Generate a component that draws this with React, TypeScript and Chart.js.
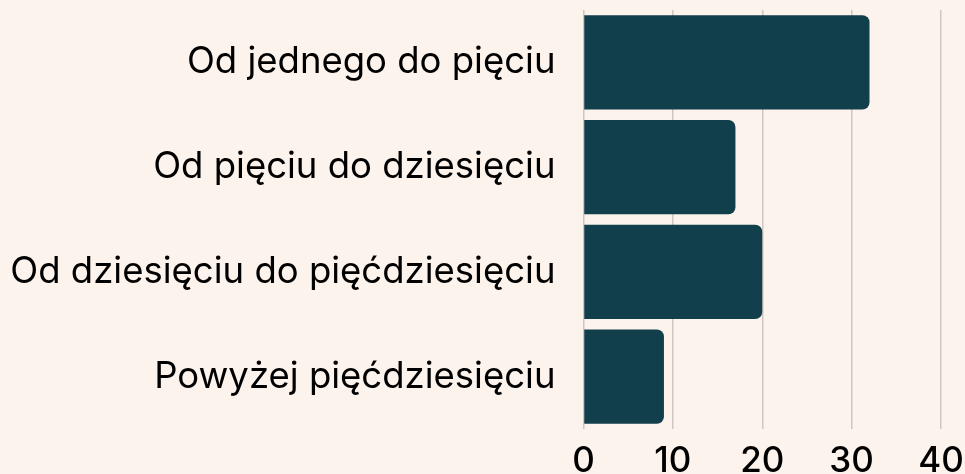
import React, { useEffect, useRef } from "react";
import { Chart, registerables } from "chart.js";

Chart.register(...registerables);

const categories = [
  "Od jednego do pięciu",
  "Od pięciu do dziesięciu",
  "Od dziesięciu do pięćdziesięciu",
  "Powyżej pięćdziesięciu",
];
const values = [32, 17, 20, 9];
const xTicks = [0, 10, 20, 30, 40];

const BG = "#fdf3ed";
const BAR = "#123f4c";
const GRID = "#cfc6c1";
const FONT = "Inter";

export default function App() {
  const ref = useRef<HTMLCanvasElement | null>(null);

  useEffect(() => {
    if (!ref.current) return;
    const chart = new Chart(ref.current, {
      type: "bar",
      data: {
        labels: categories,
        datasets: [
          {
            data: values,
            backgroundColor: BAR,
            borderRadius: 7,
            borderSkipped: "start",
            categoryPercentage: 1,
            barPercentage: 0.9,
          },
        ],
      },
      options: {
        indexAxis: "y",
        animation: false,
        responsive: true,
        maintainAspectRatio: false,
        layout: { padding: { top: 10, right: 24, left: 0, bottom: 0 } },
        plugins: {
          legend: { display: false },
          tooltip: { enabled: false },
        },
        scales: {
          x: {
            min: xTicks[0],
            max: xTicks[xTicks.length - 1],
            afterBuildTicks: (scale: any) => {
              scale.ticks = xTicks.map((v) => ({ value: v }));
            },
            afterFit: (scale: any) => {
              scale.height = 45;
              scale.paddingLeft = 0;
              scale.paddingRight = 0;
            },
            grid: { color: GRID, lineWidth: 1.5, drawTicks: false },
            border: { display: false },
            ticks: {
              color: "#000",
              padding: 11,
              font: { family: FONT, size: 35, weight: 500 },
            },
          },
          y: {
            afterFit: (scale: any) => {
              scale.width = 583.5;
              scale.paddingTop = 0;
              scale.paddingBottom = 0;
            },
            grid: { display: false, drawTicks: false },
            border: { display: false },
            ticks: {
              color: "#000",
              padding: 28,
              font: { family: FONT, size: 36.5, weight: 400 },
            },
          },
        },
      },
      plugins: [
        {
          id: "bg",
          beforeDraw: (c: any) => {
            const ctx = c.ctx;
            ctx.save();
            ctx.fillStyle = BG;
            ctx.fillRect(0, 0, c.width, c.height);
            ctx.restore();
          },
        },
      ],
    });
    return () => chart.destroy();
  }, []);

  return (
    <div
      style={{
        position: "fixed",
        left: 0,
        top: 0,
        width: 965,
        height: 474,
        background: BG,
      }}
    >
      <canvas ref={ref} />
    </div>
  );
}
